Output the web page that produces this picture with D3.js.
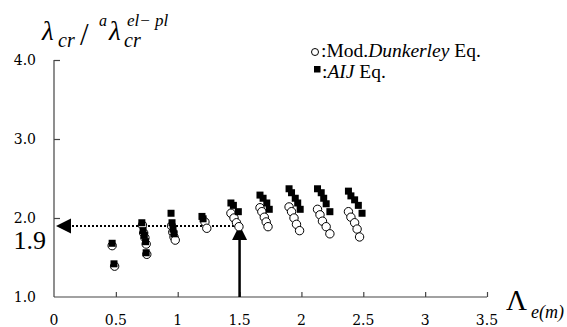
<!DOCTYPE html>
<html>
<head>
<meta charset="utf-8">
<script src="https://cdn.jsdelivr.net/npm/d3@7"></script>
<style>
  body { margin: 0; background: #fff; }
  svg { display: block; }
</style>
</head>
<body>
<svg id="chart" width="567" height="327"></svg>
<script>
// Mod. Dunkerley Eq. (open circles)
const dunkX = [0.47, 0.49,
  0.715, 0.725, 0.735, 0.745, 0.75,
  0.95, 0.96, 0.97, 0.98,
  1.22, 1.235,
  1.43, 1.455, 1.475, 1.495,
  1.665, 1.68, 1.70, 1.715, 1.73,
  1.90, 1.92, 1.94, 1.96, 1.985,
  2.13, 2.15, 2.17, 2.20, 2.23,
  2.38, 2.40, 2.43, 2.45, 2.47];
const dunkY = [1.65, 1.39,
  1.91, 1.81, 1.75, 1.67, 1.54,
  1.90, 1.82, 1.76, 1.72,
  1.95, 1.87,
  2.06, 2.00, 1.94, 1.89,
  2.13, 2.08, 2.01, 1.95, 1.89,
  2.14, 2.08, 2.00, 1.92, 1.84,
  2.11, 2.04, 1.96, 1.89, 1.80,
  2.08, 2.01, 1.94, 1.86, 1.76];

// AIJ Eq. (filled squares)
const aijX = [0.47, 0.485,
  0.71, 0.72, 0.73, 0.74, 0.745,
  0.946, 0.954, 0.962, 0.97,
  1.196, 1.205,
  1.43, 1.45, 1.49,
  1.665, 1.69, 1.72, 1.74,
  1.90, 1.92, 1.95, 1.97, 1.99,
  2.13, 2.16, 2.18, 2.20, 2.23,
  2.38, 2.40, 2.43, 2.46, 2.49];
const aijY = [1.68, 1.42,
  1.94, 1.84, 1.78, 1.70, 1.56,
  2.06, 1.94, 1.86, 1.80,
  2.02, 1.99,
  2.19, 2.16, 2.08,
  2.29, 2.25, 2.19, 2.11,
  2.37, 2.32, 2.25, 2.19, 2.11,
  2.37, 2.32, 2.25, 2.18, 2.08,
  2.34, 2.28, 2.23, 2.16, 2.06];

const xTicks = [0, 0.5, 1, 1.5, 2, 2.5, 3, 3.5];
const xTickLabels = ["0", "0.5", "1", "1.5", "2", "2.5", "3", "3.5"];
const yTicks = [1, 2, 3, 4];
const yTickLabels = ["1.0", "2.0", "3.0", "4.0"];
const markX = [1.5];   // vertical arrow position
const markY = [1.9];   // horizontal dotted line level
const markLabel = ["1.9"];

const svg = d3.select("#chart");
const x = d3.scaleLinear().domain([0, 3.5]).range([54, 487]);
const y = d3.scaleLinear().domain([1, 4]).range([297, 60]);

const tickFont = "DejaVu Serif, serif";
const mathFont = "Liberation Serif, serif";

// axes
const xAxis = d3.axisTop(x).tickValues(xTicks.slice(1)).tickSize(5).tickFormat("");
svg.append("g").attr("transform", "translate(0," + y(1) + ")").call(xAxis)
  .call(g => g.select(".domain").attr("d", "M" + x(0) + ",0H" + x(3.5)))
  .selectAll("path,line").attr("stroke", "#444").attr("stroke-width", 1.2);

const yAxis = d3.axisRight(y).tickValues(yTicks.slice(1)).tickSize(6).tickFormat("");
svg.append("g").attr("transform", "translate(" + x(0) + ",0)").call(yAxis)
  .call(g => g.select(".domain").attr("d", "M0," + y(4) + "V" + y(1)))
  .selectAll("path,line").attr("stroke", "#444").attr("stroke-width", 1.2);

// tick labels
svg.append("g").selectAll("text").data(xTicks).join("text")
  .attr("x", d => x(d)).attr("y", 325)
  .attr("text-anchor", "middle")
  .style("font-family", tickFont).attr("font-size", 14)
  .text((d, i) => xTickLabels[i]);

svg.append("g").selectAll("text").data(yTicks).join("text")
  .attr("x", 36).attr("y", d => y(d) + 5)
  .attr("text-anchor", "end")
  .style("font-family", tickFont).attr("font-size", 14)
  .text((d, i) => yTickLabels[i]);

svg.append("text")
  .attr("x", 46).attr("y", y(markY[0]) + 23)
  .attr("text-anchor", "end")
  .style("font-family", mathFont).attr("font-size", 26)
  .text(markLabel[0]);

// dotted line + left arrow
svg.append("line")
  .attr("x1", x(0) + 14).attr("x2", x(markX[0]))
  .attr("y1", y(markY[0])).attr("y2", y(markY[0]))
  .attr("stroke", "#000").attr("stroke-width", 2)
  .attr("stroke-dasharray", "2,2");
svg.append("path")
  .attr("d", "M" + (x(0) + 2) + "," + y(markY[0]) + "l15,-7.5v15z")
  .attr("fill", "#000");

// vertical arrow
svg.append("line")
  .attr("x1", x(markX[0])).attr("x2", x(markX[0]))
  .attr("y1", y(1)).attr("y2", y(markY[0]) + 12)
  .attr("stroke", "#000").attr("stroke-width", 2.5);
svg.append("path")
  .attr("d", "M" + x(markX[0]) + "," + (y(markY[0]) - 1) + "l7.5,15h-15z")
  .attr("fill", "#000");

// data
svg.append("g").selectAll("circle").data(dunkX).join("circle")
  .attr("cx", d => x(d)).attr("cy", (d, i) => y(dunkY[i]))
  .attr("r", 4.2)
  .attr("fill", "#fff").attr("stroke", "#000").attr("stroke-width", 1);

svg.append("g").selectAll("rect").data(aijX).join("rect")
  .attr("x", d => x(d) - 3.5).attr("y", (d, i) => y(aijY[i]) - 3.5)
  .attr("width", 7).attr("height", 7)
  .attr("fill", "#000");

// legend
const leg = svg.append("g").style("font-family", mathFont).attr("font-size", 19.5);
leg.append("circle").attr("cx", 315).attr("cy", 52).attr("r", 3.5)
  .attr("fill", "#fff").attr("stroke", "#000");
const t1 = leg.append("text").attr("x", 321).attr("y", 57);
t1.append("tspan").text(":Mod.");
t1.append("tspan").attr("font-style", "italic").text("Dunkerley");
t1.append("tspan").text(" Eq.");
leg.append("rect").attr("x", 314).attr("y", 66).attr("width", 6.5).attr("height", 6.5)
  .attr("fill", "#000");
const t2 = leg.append("text").attr("x", 322).attr("y", 78);
t2.append("tspan").text(":");
t2.append("tspan").attr("font-style", "italic").text("AIJ");
t2.append("tspan").text(" Eq.");

// y title: lambda_cr / ^a lambda_cr^{el-pl}
const ty = svg.append("g").style("font-family", mathFont).attr("font-style", "italic");
ty.append("text").attr("x", 42).attr("y", 40).attr("font-size", 27).text("λ");
ty.append("text").attr("x", 58).attr("y", 47).attr("font-size", 20).text("cr");
ty.append("text").attr("x", 80).attr("y", 45).attr("font-size", 31)
  .attr("font-style", "normal").text("/");
ty.append("text").attr("x", 99).attr("y", 26).attr("font-size", 16).text("a");
ty.append("text").attr("x", 109).attr("y", 40).attr("font-size", 27).text("λ");
ty.append("text").attr("x", 124).attr("y", 47).attr("font-size", 20).text("cr");
ty.append("text").attr("x", 127).attr("y", 26).attr("font-size", 17).text("el− pl");

// x title: Lambda_e(m)
const tx = svg.append("g").style("font-family", mathFont);
tx.append("text").attr("x", 506).attr("y", 310).attr("font-size", 29).text("Λ");
tx.append("text").attr("x", 531).attr("y", 318).attr("font-size", 18)
  .attr("font-style", "italic").text("e(m)");
</script>
</body>
</html>
